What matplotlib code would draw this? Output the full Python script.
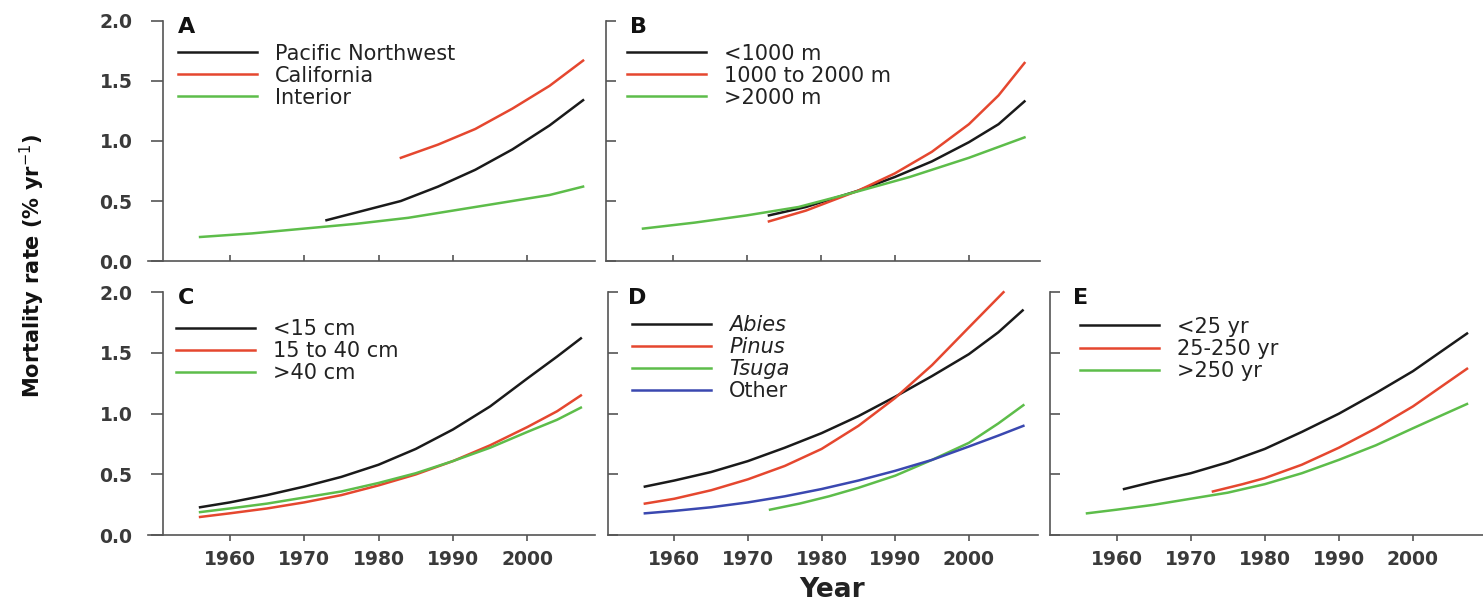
import numpy as np
import matplotlib
matplotlib.use("Agg")
import matplotlib.pyplot as plt

plt.rcParams['font.family'] = ['DejaVu Sans']

# ---- data (year, mortality rate % per yr) ----
# A: region
pnw_yr = [1973, 1978, 1983, 1988, 1993, 1998, 2003, 2007.5]
pnw_val = [0.34, 0.42, 0.50, 0.62, 0.76, 0.93, 1.13, 1.34]
cal_yr = [1983, 1988, 1993, 1998, 2003, 2007.5]
cal_val = [0.86, 0.97, 1.10, 1.27, 1.46, 1.67]
int_yr = [1956, 1963, 1970, 1977, 1984, 1991, 1998, 2003, 2007.5]
int_val = [0.20, 0.23, 0.27, 0.31, 0.36, 0.43, 0.50, 0.55, 0.62]

# B: elevation
lo_yr = [1973, 1978, 1985, 1990, 1995, 2000, 2004, 2007.5]
lo_val = [0.38, 0.45, 0.585, 0.70, 0.83, 0.99, 1.14, 1.33]
mid_yr = [1973, 1978, 1985, 1990, 1995, 2000, 2004, 2007.5]
mid_val = [0.33, 0.42, 0.585, 0.73, 0.91, 1.14, 1.38, 1.65]
hi_yr = [1956, 1963, 1970, 1977, 1985, 1992, 2000, 2007.5]
hi_val = [0.27, 0.32, 0.38, 0.45, 0.58, 0.70, 0.86, 1.03]

# C: tree diameter
diam_yr = [1956, 1960, 1965, 1970, 1975, 1980, 1985, 1990, 1995, 2000, 2004, 2007.2]
d15_val = [0.23, 0.27, 0.33, 0.40, 0.48, 0.58, 0.71, 0.87, 1.06, 1.29, 1.47, 1.62]
d40_val = [0.15, 0.18, 0.22, 0.27, 0.33, 0.41, 0.50, 0.61, 0.74, 0.89, 1.02, 1.15]
dbig_val = [0.19, 0.22, 0.26, 0.31, 0.36, 0.43, 0.51, 0.61, 0.72, 0.85, 0.95, 1.05]

# D: genus
abies_yr = [1956, 1960, 1965, 1970, 1975, 1980, 1985, 1990, 1995, 2000, 2004, 2007.3]
abies_val = [0.40, 0.45, 0.52, 0.61, 0.72, 0.84, 0.98, 1.14, 1.31, 1.49, 1.67, 1.85]
pinus_yr = [1956, 1960, 1965, 1970, 1975, 1980, 1985, 1990, 1995, 2000, 2004.7]
pinus_val = [0.26, 0.30, 0.37, 0.46, 0.57, 0.71, 0.90, 1.13, 1.40, 1.71, 2.00]
tsuga_yr = [1973, 1977, 1981, 1985, 1990, 1995, 2000, 2004, 2007.4]
tsuga_val = [0.21, 0.26, 0.32, 0.39, 0.49, 0.62, 0.76, 0.92, 1.07]
other_yr = [1956, 1960, 1965, 1970, 1975, 1980, 1985, 1990, 1995, 2000, 2004, 2007.4]
other_val = [0.18, 0.20, 0.23, 0.27, 0.32, 0.38, 0.45, 0.53, 0.62, 0.73, 0.82, 0.90]

# E: stand age
y25_yr = [1961, 1965, 1970, 1975, 1980, 1985, 1990, 1995, 2000, 2004, 2007.3]
y25_val = [0.38, 0.44, 0.51, 0.60, 0.71, 0.85, 1.00, 1.17, 1.35, 1.52, 1.66]
y250_yr = [1973, 1977, 1980, 1985, 1990, 1995, 2000, 2004, 2007.3]
y250_val = [0.36, 0.42, 0.47, 0.58, 0.72, 0.88, 1.06, 1.23, 1.37]
yold_yr = [1956, 1960, 1965, 1970, 1975, 1980, 1985, 1990, 1995, 2000, 2004, 2007.3]
yold_val = [0.18, 0.21, 0.25, 0.30, 0.35, 0.42, 0.51, 0.62, 0.74, 0.88, 0.99, 1.08]

BLACK, RED, GREEN, BLUE = '#1a1a1a', '#e5472f', '#5dbd4a', '#3a48b0'
AXC = '#555555'

panels = {
    'A': [(pnw_yr, pnw_val, BLACK, 'Pacific Northwest'),
          (cal_yr, cal_val, RED, 'California'),
          (int_yr, int_val, GREEN, 'Interior')],
    'B': [(lo_yr, lo_val, BLACK, '<1000 m'),
          (mid_yr, mid_val, RED, '1000 to 2000 m'),
          (hi_yr, hi_val, GREEN, '>2000 m')],
    'C': [(diam_yr, d15_val, BLACK, '<15 cm'),
          (diam_yr, d40_val, RED, '15 to 40 cm'),
          (diam_yr, dbig_val, GREEN, '>40 cm')],
    'D': [(abies_yr, abies_val, BLACK, 'Abies'),
          (pinus_yr, pinus_val, RED, 'Pinus'),
          (tsuga_yr, tsuga_val, GREEN, 'Tsuga'),
          (other_yr, other_val, BLUE, 'Other')],
    'E': [(y25_yr, y25_val, BLACK, '<25 yr'),
          (y250_yr, y250_val, RED, '25-250 yr'),
          (yold_yr, yold_val, GREEN, '>250 yr')],
}

# axes rectangles in figure fraction, x-limits, has y labels, top row
layout = {
    'A': ([0.0998, 0.565, 0.3014, 0.400], (1949, 2009.1), True, True),
    'B': ([0.4086, 0.565, 0.2927, 0.400], (1951, 2009.6), False, True),
    'C': ([0.0998, 0.108, 0.3014, 0.405], (1949, 2009.1), True, False),
    'D': ([0.4100, 0.108, 0.2900, 0.405], (1951, 2009.4), False, False),
    'E': ([0.7080, 0.108, 0.2927, 0.405], (1951, 2009.6), False, False),
}
leg_pos = {'A': (0.067, 0.906), 'B': (0.048, 0.906), 'C': (0.063, 0.89),
           'D': (0.056, 0.907), 'E': (0.069, 0.899)}
let_x = {'A': 0.067, 'B': 0.055, 'C': 0.067, 'D': 0.046, 'E': 0.053}

fig = plt.figure(figsize=(14.83, 6.0), dpi=100)

for key, series in panels.items():
    rect, xl, has_ylab, top = layout[key]
    ax = fig.add_axes(rect)
    for xs, ys, c, lab in series:
        ax.plot(xs, ys, color=c, lw=1.8, label=lab, clip_on=False)
    ax.set_xlim(*xl)
    ax.set_ylim(0, 2.0)
    for s in ['top', 'right']:
        ax.spines[s].set_visible(False)
    for s in ['left', 'bottom']:
        ax.spines[s].set_color(AXC)
        ax.spines[s].set_linewidth(1.2)
    ax.set_xticks([1960, 1970, 1980, 1990, 2000])
    ax.set_yticks([0, 0.5, 1.0, 1.5, 2.0])
    if has_ylab:
        ax.spines['left'].set_position(('data', 1951))
        ax.tick_params(axis='y', direction='out', length=9, width=1.2, color=AXC,
                       pad=13, labelsize=13.5, labelcolor='#3a3a3a')
        ax.set_yticklabels(['0.0', '0.5', '1.0', '1.5', '2.0'], fontweight='bold')
    else:
        ax.tick_params(axis='y', direction='in', length=7, width=1.2, color=AXC,
                       labelleft=False)
    if top:
        ax.tick_params(axis='x', direction='in', length=4, width=1.2, color=AXC,
                       labelbottom=False)
    else:
        ax.tick_params(axis='x', direction='out', length=4, width=1.2, color=AXC,
                       pad=7, labelsize=13.5, labelcolor='#3a3a3a')
        ax.set_xticklabels(['1960', '1970', '1980', '1990', '2000'], fontweight='bold')

    ax.text(let_x[key], 0.975, key, transform=ax.transAxes, ha='left', va='center',
            fontsize=16, fontweight='bold', color='#111111')
    leg = ax.legend(loc='upper left', bbox_to_anchor=leg_pos[key],
                    frameon=False, fontsize=15, handlelength=3.8, handletextpad=0.85,
                    labelspacing=0.1, borderpad=0, borderaxespad=0)
    for t in leg.get_texts():
        t.set_color('#222222')
    if key == 'D':
        for t in leg.get_texts()[:3]:
            t.set_style('italic')

fig.text(0.022, 0.557, 'Mortality rate (% yr$^{-1}$)', rotation=90, ha='center',
         va='center', fontsize=15, fontweight='bold', color='#111111')
fig.text(0.561, 0.017, 'Year', ha='center', va='center', fontsize=19,
         fontweight='bold', color='#222222')

fig.savefig('out.png', dpi=100)
